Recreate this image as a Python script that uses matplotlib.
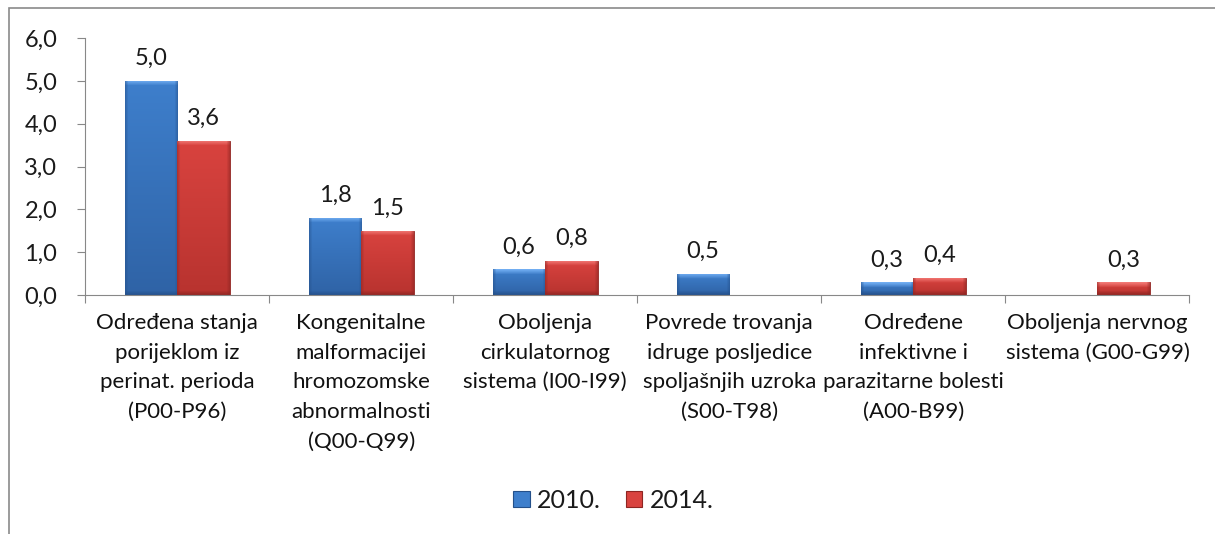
import numpy as np
import matplotlib.pyplot as plt
from matplotlib.patches import Rectangle
from matplotlib.colors import to_rgb

plt.rcParams['font.family'] = ['Lato', 'DejaVu Sans']

# data
categories = [
    "Određena stanja\nporijeklom iz\nperinat. perioda\n(P00-P96)",
    "Kongenitalne\nmalformacijei\nhromozomske\nabnormalnosti\n(Q00-Q99)",
    "Oboljenja\ncirkulatornog\nsistema (I00-I99)",
    "Povrede trovanja\nidruge posljedice\nspoljašnjih uzroka\n(S00-T98)",
    "Određene\ninfektivne i\nparazitarne bolesti\n(A00-B99)",
    "Oboljenja nervnog\nsistema (G00-G99)",
]
series_names = ["2010.", "2014."]
values_2010 = [5.0, 1.8, 0.6, 0.5, 0.3, np.nan]
values_2014 = [3.6, 1.5, 0.8, np.nan, 0.4, 0.3]
yticks = [0, 1, 2, 3, 4, 5, 6]

# light bevel, body top, body bottom, dark edge
blue_cols = ["#72aef2", "#3e7fcc", "#2f63a6", "#24508a"]
red_cols = ["#f27a76", "#d9433f", "#b8332f", "#8e2522"]

fig = plt.figure(figsize=(12.15, 5.34), dpi=100)
ax = fig.add_axes([0.070, 0.4476, 0.909, 0.4812])

x = np.arange(len(categories))
w = 0.285
px_per_unit = 0.4812 * 534 / 6.0
px_per_cat = 0.909 * 1215 / len(categories)


def bar_image(h, cols):
    hp = max(int(round(h * px_per_unit)), 2)
    wp = int(round(w * px_per_cat))
    c = [np.array(to_rgb(k)) for k in cols]
    img = np.zeros((hp, wp, 3))
    for r in range(hp):
        f = r / max(hp - 1, 1)  # 0 at top
        img[r, :] = c[1] * (1 - f) + c[2] * f
    bev = 5
    for r in range(min(bev, hp)):
        a = 1 - r / bev
        img[r, :] = c[0] * a + img[r, :] * (1 - a)
    for r in range(max(hp - bev, 0), hp):
        a = (r - (hp - bev)) / bev
        img[r, :] = c[3] * a + img[r, :] * (1 - a)
    for q in range(3):
        a = 0.5 * (1 - q / 3)
        img[:, q] = c[3] * a + img[:, q] * (1 - a)
        img[:, wp - 1 - q] = c[3] * a + img[:, wp - 1 - q] * (1 - a)
    return img


def gradient_bars(xpos, vals, cols):
    bars = ax.bar(xpos, np.nan_to_num(vals), w, color=cols[1],
                  edgecolor=cols[3], linewidth=0.6, zorder=2)
    for b, v in zip(bars, vals):
        if np.isnan(v):
            continue
        x0, y0 = b.get_x(), b.get_y()
        im = ax.imshow(bar_image(v, cols), origin='upper', aspect='auto',
                       interpolation='bilinear',
                       extent=[x0, x0 + b.get_width(), y0, y0 + b.get_height()],
                       zorder=2.5)
        im.set_clip_path(b)
        ax.text(x0 + b.get_width() / 2, v + 0.27, f"{v:.1f}".replace('.', ','),
                ha='center', va='bottom', fontsize=17, color='#1a1a1a')
    return bars


b1 = gradient_bars(x - w / 2, values_2010, blue_cols)
b2 = gradient_bars(x + w / 2, values_2014, red_cols)

ax.set_xlim(-0.5, len(categories) - 0.5)
ax.set_ylim(0, 6)
ax.set_yticks(yticks)
ax.set_yticklabels([f"{t:.1f}".replace('.', ',') for t in yticks], fontsize=17, color='#1a1a1a')
ax.set_xticks(np.arange(len(categories) + 1) - 0.5)
ax.set_xticklabels([])
ax.set_xticks(x, minor=True)
ax.set_xticklabels(categories, minor=True, fontsize=16, color='#111111', linespacing=1.6)
ax.tick_params(axis='x', which='minor', length=0, pad=13)
ax.tick_params(axis='x', which='major', length=6, color='#888888', direction='out')
ax.tick_params(axis='y', length=6, color='#888888', pad=14)
for s in ['top', 'right']:
    ax.spines[s].set_visible(False)
for s in ['left', 'bottom']:
    ax.spines[s].set_color('#888888')

h1 = Rectangle((0, 0), 1, 1, facecolor=blue_cols[1], edgecolor=blue_cols[3], linewidth=0.8)
h2 = Rectangle((0, 0), 1, 1, facecolor=red_cols[1], edgecolor=red_cols[3], linewidth=0.8)
leg = fig.legend([h1, h2], series_names, loc='center', bbox_to_anchor=(0.505, 0.063),
                 ncol=2, frameon=False, fontsize=18, handlelength=0.65, handleheight=0.65,
                 handletextpad=0.3, columnspacing=1.0)
for t in leg.get_texts():
    t.set_color('#1a1a1a')

# outer chart border (partially visible)
fig.add_artist(Rectangle((9 / 1215, -0.2), 1.5, 1.2 - 8 / 534,
                         transform=fig.transFigure, fill=False,
                         edgecolor='#8a8a8a', linewidth=1.2))

fig.savefig("out.png", dpi=100)
